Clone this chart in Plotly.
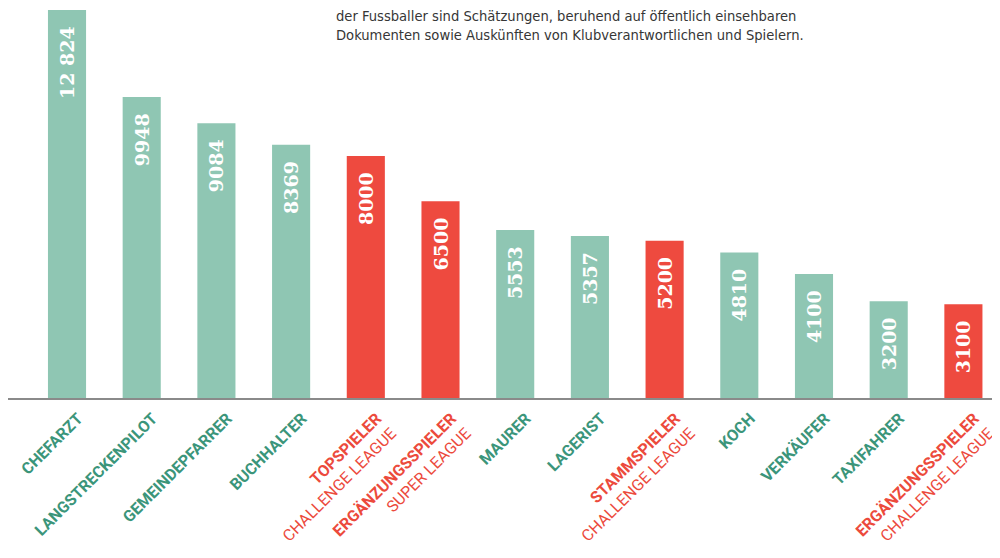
import plotly.graph_objects as go

categories = ["CHEFARZT", "LANGSTRECKENPILOT", "GEMEINDEPFARRER", "BUCHHALTER",
              "TOPSPIELER", "ERGÄNZUNGSSPIELER", "MAURER", "LAGERIST",
              "STAMMSPIELER", "KOCH", "VERKÄUFER", "TAXIFAHRER", "ERGÄNZUNGSSPIELER"]
subtitles = ["", "", "", "", "CHALLENGE LEAGUE", "SUPER LEAGUE", "", "",
             "CHALLENGE LEAGUE", "", "", "", "CHALLENGE LEAGUE"]
values = [12824, 9948, 9084, 8369, 8000, 6500, 5553, 5357, 5200, 4810, 4100, 3200, 3100]
is_football = [False, False, False, False, True, True, False, False, True, False, False, False, True]

GREEN_BAR = "#8fc6b3"
RED_BAR = "#ee4a3f"
GREEN_TXT = "#3b957a"
RED_TXT = "#ec4a3c"

x = list(range(len(categories)))
bar_colors = [RED_BAR if f else GREEN_BAR for f in is_football]
labels = [(f"{v:,}".replace(",", " ") if v >= 10000 else str(v)) + "\u00a0\u00a0" for v in values]

ticktext = []
for cat, sub, f in zip(categories, subtitles, is_football):
    c = RED_TXT if f else GREEN_TXT
    t = f"<span style='color:{c}'><b>{cat}</b></span>"
    if sub:
        t += f"<br><span style='color:{c}'>{sub}</span>"
    ticktext.append(t)

TICKFONT = "Roboto, sans-serif"
NOTEFONT = "DejaVu Sans Condensed, DejaVu Sans, sans-serif"

fig = go.Figure(go.Bar(
    x=x, y=values, marker_color=bar_colors, marker_line_width=0, width=0.51,
    text=labels, textposition="inside", insidetextanchor="end", textangle=-90,
    insidetextfont=dict(family="DejaVu Serif", size=19, color="white", weight="bold"),
    constraintext="none", hoverinfo="skip",
))

fig.update_layout(
    width=992, height=550,
    margin=dict(l=0, r=0, t=0, b=160, autoexpand=False),
    paper_bgcolor="white", plot_bgcolor="white",
    showlegend=False,
    xaxis=dict(range=[-0.79, 12.49], tickvals=x, ticktext=ticktext, tickangle=-45,
               tickfont=dict(family=TICKFONT, size=16),
               automargin=False, ticklabeloverflow="allow",
               ticklabelshift=11, ticklabelstandoff=3,
               showline=True, linecolor="#8a8a8a", linewidth=2, showgrid=False,
               ticks="", zeroline=False),
    yaxis=dict(range=[0, 12890], visible=False, showgrid=False, zeroline=False),
    annotations=[dict(
        xref="paper", yref="paper", x=0.329, y=1.0, yshift=3, xanchor="left", yanchor="top",
        align="left", showarrow=False,
        text="der Fussballer sind Schätzungen, beruhend auf öffentlich einsehbaren<br>"
             "Dokumenten sowie Auskünften von Klubverantwortlichen und Spielern.",
        font=dict(family=NOTEFONT, size=14.6, color="#363636"),
    )],
)

fig.write_html("out.html")
